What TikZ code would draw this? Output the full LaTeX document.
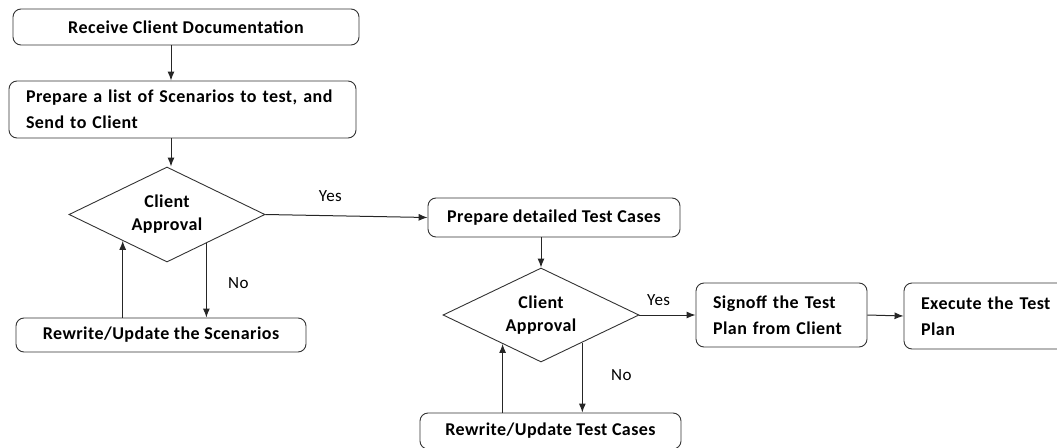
\documentclass[tikz,border=0pt]{standalone}
\usepackage{fontspec}
\setmainfont{Carlito}[LetterSpace=2.5]
\usetikzlibrary{shapes,arrows,arrows.meta}
\usetikzlibrary{calc}

\tikzset{
  stepbox/.style={draw=black!80, line width=0.9pt, rounded corners=8pt, font=\fontsize{18}{26}\selectfont\bfseries, inner sep=0pt},
  leftbox/.style={stepbox, align=left, inner xsep=17pt},
  decide/.style={draw=black!80, line width=0.9pt, diamond, aspect=2, inner sep=0pt, align=center, font=\fontsize{18}{23}\selectfont\bfseries},
  flow/.style={draw=black!85, line width=1pt, -{Latex[length=9pt,width=7pt]}},
  tag/.style={font=\fontsize{17}{20}\selectfont}
}

\begin{document}
\begin{tikzpicture}[x=1pt, y=-1pt]
		\useasboundingbox (0,0) rectangle (1057,447);
		% boxes
		\node [stepbox, minimum width=346pt, minimum height=36pt] (recv) at (186,27) {Receive Client Documentation};
		\node [leftbox, text width=313pt, minimum height=57pt] (scen) at (182.5,109.5) {Prepare a list of Scenarios to test, and\\Send to Client};
		\node [decide, minimum width=196pt, minimum height=95pt] (ok1) at (167,214.5) {Client\\Approval};
		\node [stepbox, minimum width=290pt, minimum height=34pt] (redo1) at (161,335) {Rewrite/Update the Scenarios};
		\node [stepbox, minimum width=252pt, minimum height=39pt] (cases) at (554,217.5) {Prepare detailed Test Cases};
		\node [decide, minimum width=196pt, minimum height=94pt] (ok2) at (541,315) {Client\\Approval};
		\node [stepbox, minimum width=261pt, minimum height=36pt] (redo2) at (550.5,431) {Rewrite/Update Test Cases};
		\node [leftbox, text width=137pt, minimum height=64pt] (sign) at (781.5,315) {Signoff the Test\\Plan from Client};
		\node [leftbox, text width=146pt, minimum height=66pt] (exec) at (994,316) {Execute the Test\\Plan};
		% points on the diamond edges
		\coordinate (no1) at ($(ok1.south)!0.4!(ok1.east)$);
		\coordinate (back1) at ($(ok1.south)!0.45!(ok1.west)$);
		\coordinate (no2) at ($(ok2.south)!0.42!(ok2.east)$);
		\coordinate (back2) at ($(ok2.south)!0.39!(ok2.west)$);
		% arrows
		\draw [flow] (recv.south -| 171,0) -- (scen.north -| 171,0);
		\draw [flow] (scen.south -| 171,0) -- (ok1.north -| 171,0);
		\draw [flow] (ok1.east) -- (cases.west) node [tag, pos=0.4, above=10pt] {Yes};
		\draw [flow] (no1) -- (no1 |- redo1.north) node [tag, pos=0.54, right=18pt] {No};
		\draw [flow] (back1 |- redo1.north) -- (back1);
		\draw [flow] (cases.south -| ok2.north) -- (ok2.north);
		\draw [flow] (ok2.east) -- (sign.west) node [tag, pos=0.34, above=6pt] {Yes};
		\draw [flow] (no2) -- (no2 |- redo2.north) node [tag, pos=0.46, right=25pt] {No};
		\draw [flow] (back2 |- redo2.north) -- (back2);
		\draw [flow] (sign.east) -- (exec.west);
		\end{tikzpicture}
\end{document}
